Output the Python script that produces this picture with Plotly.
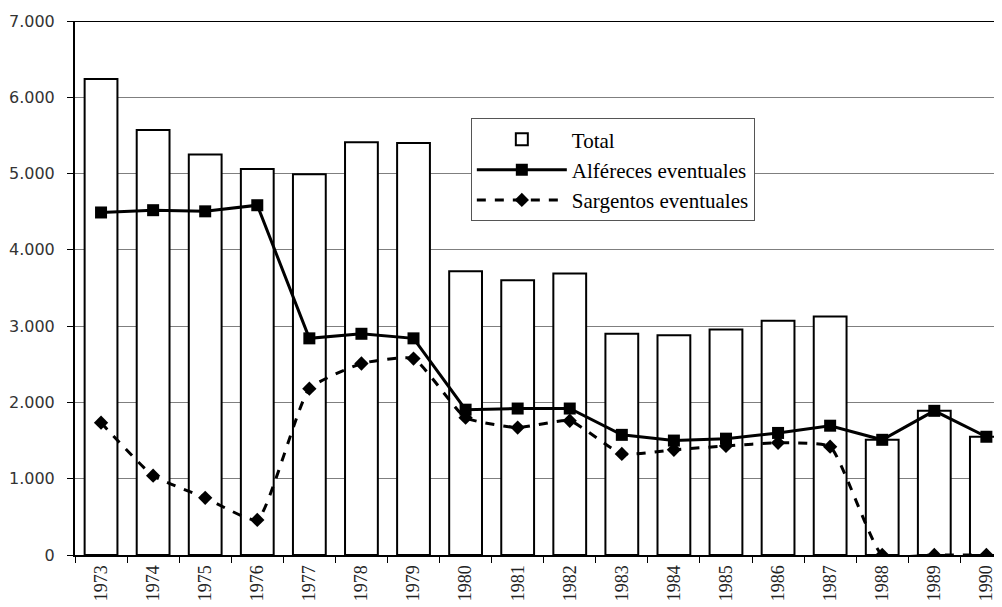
import plotly.graph_objects as go

years = [str(y) for y in range(1973, 1991)]
total = [6240, 5570, 5250, 5060, 4990, 5410, 5400, 3720, 3600, 3690, 2900, 2880, 2955, 3070, 3125, 1510, 1890, 1550]
alfereces = [4490, 4520, 4505, 4585, 2840, 2900, 2840, 1905, 1920, 1920, 1575, 1500, 1525, 1600, 1695, 1510, 1890, 1550]
sargentos = [1735, 1040, 750, 460, 2180, 2510, 2575, 1800, 1670, 1760, 1325, 1380, 1430, 1470, 1420, 0, 0, 0]
y_ticks = [0, 1000, 2000, 3000, 4000, 5000, 6000, 7000]

fig = go.Figure()
fig.add_trace(go.Bar(x=years, y=total, name="Total",
                     marker=dict(color="white", line=dict(color="black", width=2))))
fig.add_trace(go.Scatter(x=years, y=alfereces, name="Alféreces eventuales", mode="lines+markers",
                         line=dict(color="black", width=3),
                         marker=dict(symbol="square", size=12, color="black")))
fig.add_trace(go.Scatter(x=years, y=sargentos, name="Sargentos eventuales", mode="lines+markers",
                         line=dict(color="black", width=3, dash="dash", shape="spline", smoothing=0.45),
                         marker=dict(symbol="diamond", size=11, color="black")))

# page body has an 8px margin, so the figure is sized to the visible area
fig.update_layout(
    width=994, height=599,
    margin=dict(l=67, r=0, t=13, b=52),
    plot_bgcolor="white", paper_bgcolor="white",
    separators=",.",
    bargap=0.37,
    showlegend=True,
    legend=dict(x=0.427, y=0.818, xanchor="left", yanchor="top",
                bordercolor="#555555", borderwidth=1, bgcolor="white",
                font=dict(family="Liberation Serif", size=21, color="black"),
                itemwidth=90, tracegroupgap=0),
    xaxis=dict(type="category", range=[-0.5, 17.3], tickangle=-90, automargin=False,
               showline=True, linecolor="black", linewidth=2,
               ticks="outside", tickson="boundaries", ticklen=6, tickcolor="black", tickwidth=1,
               tickfont=dict(family="Liberation Serif", size=18, color="#222222"),
               ticklabelstandoff=1,
               showgrid=False),
    yaxis=dict(range=[0, 7000], tickvals=y_ticks, tickformat=",d", automargin=False,
               showline=True, linecolor="black", linewidth=2,
               ticks="outside", ticklen=6, tickcolor="black",
               showgrid=True, gridcolor="#7f7f7f", gridwidth=1,
               tickfont=dict(family="DejaVu Sans", size=16, color="#333333"),
               ticklabelstandoff=9,
               zeroline=False),
    shapes=[dict(type="line", xref="paper", yref="y", x0=0, x1=1, y0=7000, y1=7000,
                 line=dict(color="black", width=2))],
)
fig.write_html("out.html")
